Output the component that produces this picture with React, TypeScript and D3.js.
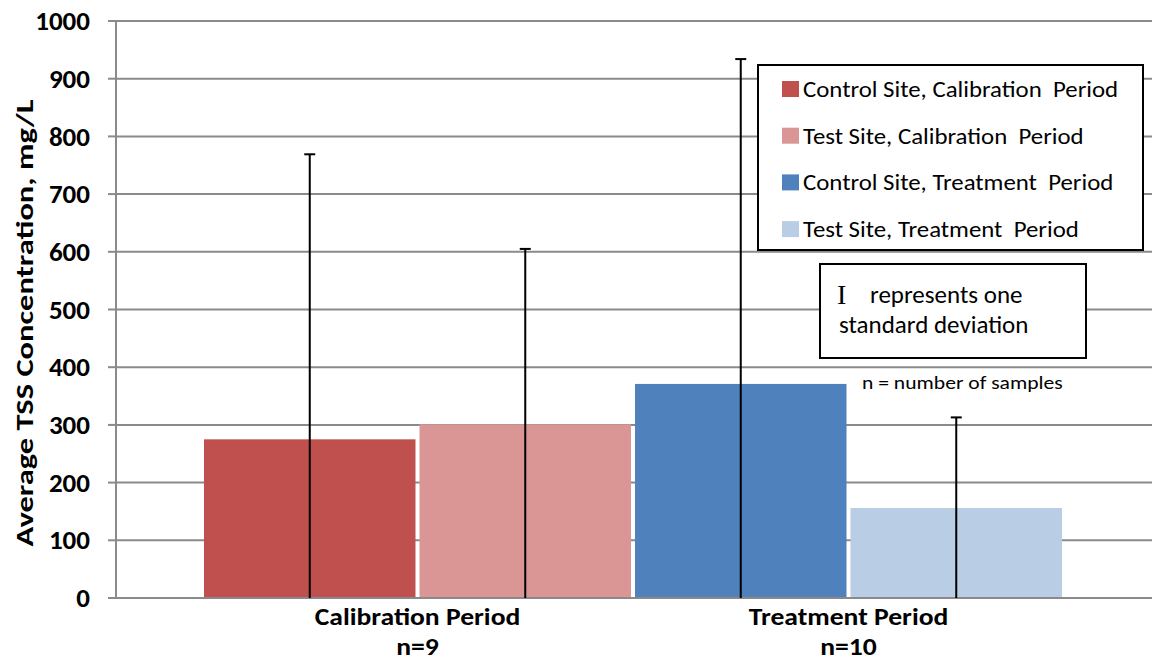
import React from "react";
import * as d3 from "d3";

const periods = ["Calibration Period", "Treatment Period"];
const periodN = ["n=9", "n=10"];
const sites = ["Control Site", "Test Site"];
// mean values per site
const meanCalibration = [275, 301];
const meanTreatment = [371, 156];
// standard deviations per site
const sdCalibration = [494, 304];
const sdTreatment = [563, 157];
const legendLabels = [
  "Control Site, Calibration  Period",
  "Test Site, Calibration  Period",
  "Control Site, Treatment  Period",
  "Test Site, Treatment  Period",
];
const barColors = ["#C0504D", "#DA9694", "#4F81BD", "#B9CDE5"];
const yTicks = [0, 100, 200, 300, 400, 500, 600, 700, 800, 900, 1000];

const W = 1153;
const H = 661;
const FONT = "Carlito, Calibri, 'Open Sans', 'Noto Sans', sans-serif";

export default function App() {
  const y = d3.scaleLinear().domain([0, 1000]).range([598, 21]);
  const x0 = d3.scaleBand<string>().domain(periods).range([202, 1064]).paddingInner(0).paddingOuter(0);
  const x1 = d3
    .scaleBand<string>()
    .domain(sites)
    .range([0, x0.bandwidth()])
    .paddingInner(0.0186)
    .paddingOuter(0.0093);

  const means = [meanCalibration, meanTreatment];
  const sds = [sdCalibration, sdTreatment];

  const bars: { x: number; w: number; y0: number; y1: number; color: string; top: number }[] = [];
  periods.forEach((p, pi) => {
    sites.forEach((s, si) => {
      const m = means[pi][si];
      const sd = sds[pi][si];
      bars.push({
        x: (x0(p) as number) + (x1(s) as number),
        w: x1.bandwidth(),
        y0: y(0),
        y1: y(m),
        color: barColors[pi * 2 + si],
        top: y(m + sd),
      });
    });
  });

  return (
    <svg width={W} height={H} style={{ position: "absolute", left: 0, top: 0, background: "#fff" }}>
      {/* gridlines */}
      {yTicks.map((t) => (
        <line key={"g" + t} x1={116} x2={1152} y1={y(t)} y2={y(t)} stroke="#8a8a8a" strokeWidth={2} />
      ))}
      {/* y axis */}
      <line x1={116} x2={116} y1={y(1000)} y2={y(0)} stroke="#8a8a8a" strokeWidth={2} />
      {yTicks.map((t) => (
        <line key={"t" + t} x1={108} x2={116} y1={y(t)} y2={y(t)} stroke="#8a8a8a" strokeWidth={2} />
      ))}
      {yTicks.map((t) => (
        <text key={"l" + t} x={90} y={y(t)} dy="0.34em" textAnchor="end" fontFamily={FONT} fontWeight="bold" fontSize={27} fill="#000">
          {t}
        </text>
      ))}
      <text
        transform={`translate(33,${323}) rotate(-90)`}
        textAnchor="middle"
        fontFamily={FONT}
        fontWeight="bold"
        fontSize={25}
        textLength={447}
        lengthAdjust="spacingAndGlyphs"
        fill="#000"
      >
        Average TSS Concentration, mg/L
      </text>

      {/* bars */}
      {bars.map((b, i) => (
        <rect key={"b" + i} x={b.x} y={b.y1} width={b.w} height={b.y0 - b.y1} fill={b.color} />
      ))}
      {/* baseline redraw */}
      <line x1={116} x2={1152} y1={y(0)} y2={y(0)} stroke="#8a8a8a" strokeWidth={2} />
      {/* error bars */}
      {bars.map((b, i) => {
        const cx = b.x + b.w / 2;
        return (
          <g key={"e" + i}>
            <line x1={cx} x2={cx} y1={b.top} y2={y(0)} stroke="#000" strokeWidth={2} />
            <line x1={cx - 5.5} x2={cx + 5.5} y1={b.top} y2={b.top} stroke="#000" strokeWidth={2} />
          </g>
        );
      })}

      {/* x labels */}
      {periods.map((p, i) => {
        const cx = (x0(p) as number) + x0.bandwidth() / 2;
        return (
          <g key={"x" + p} transform={`translate(${cx},0) scale(1.15,1)`}>
            <text x={0} y={625} textAnchor="middle" fontFamily={FONT} fontWeight="bold" fontSize={24} fill="#000">
              {p}
            </text>
            <text x={0} y={655} textAnchor="middle" fontFamily={FONT} fontWeight="bold" fontSize={24} fill="#000">
              {periodN[i]}
            </text>
          </g>
        );
      })}

      {/* legend */}
      <rect x={758} y={65} width={385} height={185} fill="#fff" stroke="#000" strokeWidth={2} />
      {legendLabels.map((l, i) => (
        <g key={"lg" + i} transform={`translate(782,${97 + i * 46.7})`}>
          <rect x={0} y={-16} width={17} height={16} fill={barColors[i]} />
          <text
            x={0}
            y={0}
            transform="translate(21,0) scale(1.08,1)"
            fontFamily={FONT}
            fontSize={23}
            fill="#000"
            style={{ whiteSpace: "pre" }}
          >
            {l}
          </text>
        </g>
      ))}

      {/* annotation box */}
      <rect x={820} y={264} width={266} height={94} fill="#fff" stroke="#000" strokeWidth={2} />
      <text x={837} y={304} fontFamily="'Liberation Serif', 'DejaVu Serif', serif" fontSize={28} fill="#000">I</text>
      <text x={870} y={303} fontFamily={FONT} fontSize={25} fill="#000">represents one</text>
      <text x={839} y={333} fontFamily={FONT} fontSize={25} fill="#000">standard deviation</text>
      <text x={0} y={0} transform="translate(862,389) scale(1.2,1)" fontFamily={FONT} fontSize={18} fill="#000">
        n = number of samples
      </text>
    </svg>
  );
}
